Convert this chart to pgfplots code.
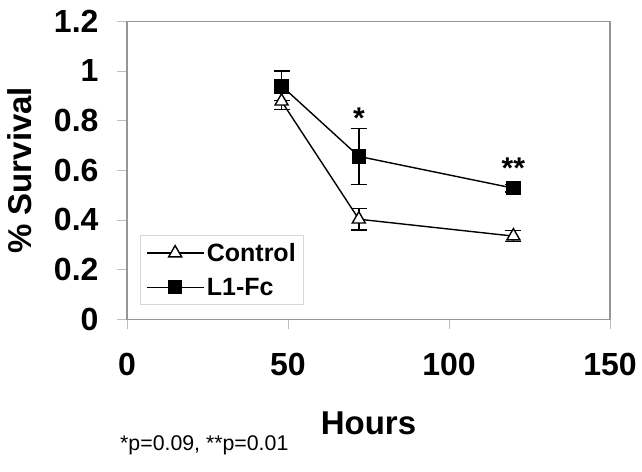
\documentclass[border=0pt]{standalone}
\usepackage{fontspec}
\setmainfont{Liberation Sans}
\usepackage{pgfplots}
\pgfplotsset{compat=1.18}
\definecolor{boxgray}{RGB}{150,150,150}
\definecolor{tickgray}{RGB}{190,190,190}
\definecolor{leggray}{RGB}{215,215,215}
\begin{document}
\begin{tikzpicture}
\useasboundingbox (0,0) rectangle (642bp,472bp);
\begin{axis}[
at={(127bp,152.7bp)}, anchor=south west,
scale only axis,
width=483bp, height=298bp,
xmin=0, xmax=150, ymin=0, ymax=1.2,
xtick={0,50,100,150},
ytick={0,0.2,0.4,0.6,0.8,1,1.2},
axis line style={boxgray, line width=1.2bp},
tick style={tickgray, line width=0.8bp},
tick align=outside,
major tick length=10bp,
xtick pos=bottom, ytick pos=left,
/pgf/number format/assume math mode=true,
ticklabel style={font=\fontsize{32bp}{36bp}\selectfont\bfseries, text=black},
xticklabel style={yshift=-20bp},
yticklabel style={xshift=-15bp, /pgf/number format/fixed, /pgf/number format/precision=1},
xlabel={Hours},
ylabel={\% Survival},
label style={font=\fontsize{33bp}{38bp}\selectfont\bfseries},
xlabel style={at={(axis description cs:0.5,0)}, anchor=center, yshift=-104bp},
ylabel style={at={(axis description cs:-0.2215,0.5)}, anchor=center},
legend style={at={(0.027,0.048)}, anchor=south west, draw=leggray, line width=0.8bp,
  font=\fontsize{25bp}{30bp}\selectfont\bfseries, row sep=11bp, inner xsep=6bp, inner ysep=6bp,
  cells={anchor=west}},
legend image code/.code={
  \draw[mark repeat=2, mark phase=2, #1, line width=1.4bp]
    plot coordinates {(0bp,0bp) (28bp,0bp) (57bp,0bp)};},
]
\addplot[black, line width=1.4bp, mark=triangle*, mark size=7.5bp,
  mark options={fill=white, line width=1.4bp},
  error bars/.cd, y dir=both, y explicit,
  error bar style={line width=1.4bp, black},
  error mark options={rotate=90, mark size=8bp, line width=1.4bp, black}]
  coordinates {
  (48,0.878) +- (0,0.033)
  (72,0.403) +- (0,0.043)
  (120,0.335) +- (0,0.022)
  };
\addlegendentry{Control}
\addplot[black, line width=1.4bp, mark=square*, mark size=6.5bp,
  error bars/.cd, y dir=both, y explicit,
  error bar style={line width=1.4bp, black},
  error mark options={rotate=90, mark size=8bp, line width=1.4bp, black}]
  coordinates {
  (48,0.940) +- (0,0.060)
  (72,0.656) +- (0,0.112)
  (120,0.528) +- (0,0.015)
  };
\addlegendentry{L1-Fc}
\node[font=\fontsize{30bp}{30bp}\selectfont\bfseries] at (axis cs:72,0.808) {*};
\node[font=\fontsize{30bp}{30bp}\selectfont\bfseries] at (axis cs:120,0.608) {**};
\end{axis}
\node[anchor=west, inner sep=0pt, font=\fontsize{21.3bp}{24bp}\selectfont] at (120bp,27bp) {*p=0.09, **p=0.01};
\end{tikzpicture}
\end{document}
